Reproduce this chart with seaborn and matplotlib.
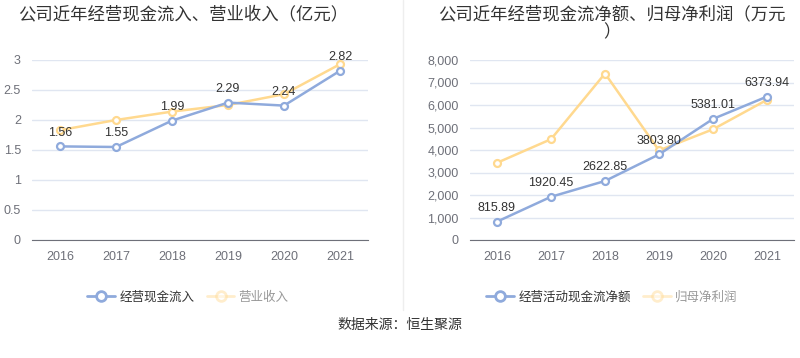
import matplotlib
matplotlib.use("Agg")
import matplotlib.pyplot as plt
import matplotlib.ticker as ticker
from matplotlib.lines import Line2D
import numpy as np
import pandas as pd
import seaborn as sns

# ---------------------------------------------------------------------------
# Data
# ---------------------------------------------------------------------------
years = ["2016", "2017", "2018", "2019", "2020", "2021"]

# left panel (亿元)
cash_inflow = [1.56, 1.55, 1.99, 2.29, 2.24, 2.82]
revenue = [1.83, 2.00, 2.14, 2.25, 2.43, 2.93]

# right panel (万元)
net_cash_flow = [815.89, 1920.45, 2622.85, 3803.80, 5381.01, 6373.94]
net_profit = [3430, 4480, 7400, 3980, 4920, 6230]

BLUE = "#8FAADC"
ORANGE = "#FFD98F"
GRID = "#E0E6F1"
AXIS = "#6E7079"
TEXT = "#333333"

sns.set_style("white")
plt.rcParams["font.family"] = ["Noto Sans CJK SC", "DejaVu Sans"]

fig = plt.figure(figsize=(8, 3.58), dpi=100)
W, H = 800, 358


def px_axes(x0, y0, x1, y1):
    return fig.add_axes([x0 / W, 1 - y1 / H, (x1 - x0) / W, (y1 - y0) / H])


def draw_panel(ax, s1, s2, ymax, ystep, fmt, labels_fmt):
    df = pd.DataFrame({"x": np.arange(len(years)), "a": s1, "b": s2})
    for col, color in (("b", ORANGE), ("a", BLUE)):
        sns.lineplot(data=df, x="x", y=col, ax=ax, color=color, linewidth=1.8,
                     marker="o", markersize=5, markerfacecolor="white",
                     markeredgecolor=color, markeredgewidth=1.6)
    for i, v in enumerate(s1):
        ax.annotate(labels_fmt(v), (i, v), textcoords="offset points",
                    xytext=(0, 10), ha="center", va="center",
                    fontsize=9, color=TEXT, family=["Liberation Sans", "DejaVu Sans"])
    ax.set_xlim(-0.5, len(years) - 0.5)
    ax.set_ylim(0, ymax)
    ax.set_xticks(range(len(years)))
    ax.set_xticklabels(years)
    ax.set_yticks(np.arange(0, ymax + ystep / 2, ystep))
    ax.yaxis.set_major_formatter(ticker.FuncFormatter(fmt))
    ax.grid(axis="y", color=GRID, linewidth=1)
    ax.set_axisbelow(True)
    for s in ("top", "right", "left"):
        ax.spines[s].set_visible(False)
    ax.spines["bottom"].set_color(AXIS)
    ax.tick_params(axis="x", length=4, color=AXIS, labelcolor=AXIS,
                   labelsize=9, pad=4)
    ax.tick_params(axis="y", length=0, labelcolor=AXIS, labelsize=9, pad=8)
    for lab in ax.get_xticklabels() + ax.get_yticklabels():
        lab.set_family(["Liberation Sans", "DejaVu Sans"])
    ax.set_xlabel("")
    ax.set_ylabel("")


ax1 = px_axes(32, 60, 368, 240)
draw_panel(ax1, cash_inflow, revenue, 3, 0.5,
           lambda v, p: f"{v:g}", lambda v: f"{v:.2f}")

ax2 = px_axes(470, 60, 794, 240)
draw_panel(ax2, net_cash_flow, net_profit, 8000, 1000,
           lambda v, p: f"{int(v):,}", lambda v: f"{v:.2f}")

# titles
fig.text(18 / W, 1 - 14 / H, "公司近年经营现金流入、营业收入（亿元）",
         fontsize=12.5, color=TEXT, ha="left", va="center")
fig.text(612 / W, 1 - 23 / H, "公司近年经营现金流净额、归母净利润（万元\n）",
         fontsize=12.5, color=TEXT, ha="center", va="center",
         multialignment="center", linespacing=1.0)

# separator
fig.add_artist(Line2D([403 / W, 403 / W], [1 - 310 / H, 1.0],
                      color="#EEEEEE", linewidth=1))


def legend(ax, names, cx):
    handles = [
        Line2D([], [], color=BLUE, linewidth=2, marker="o", markersize=7,
               markerfacecolor="white", markeredgecolor=BLUE, markeredgewidth=2),
        Line2D([], [], color=ORANGE, linewidth=2, marker="o", markersize=7,
               markerfacecolor="white", markeredgecolor=ORANGE,
               markeredgewidth=2, alpha=0.45),
    ]
    leg = fig.legend(handles, names, loc="center", ncol=2,
                     bbox_to_anchor=(cx / W, 1 - 297 / H), frameon=False,
                     fontsize=9, handlelength=2.2, handletextpad=0.35,
                     columnspacing=1.0)
    leg.get_texts()[0].set_color(TEXT)
    leg.get_texts()[1].set_color("#999999")


legend(ax1, ["经营现金流入", "营业收入"], 188)
legend(ax2, ["经营活动现金流净额", "归母净利润"], 612)

fig.text(400 / W, 1 - 325 / H, "数据来源：恒生聚源", fontsize=10,
         color=TEXT, ha="center", va="center")

fig.savefig("out.png", dpi=100, facecolor="white")
